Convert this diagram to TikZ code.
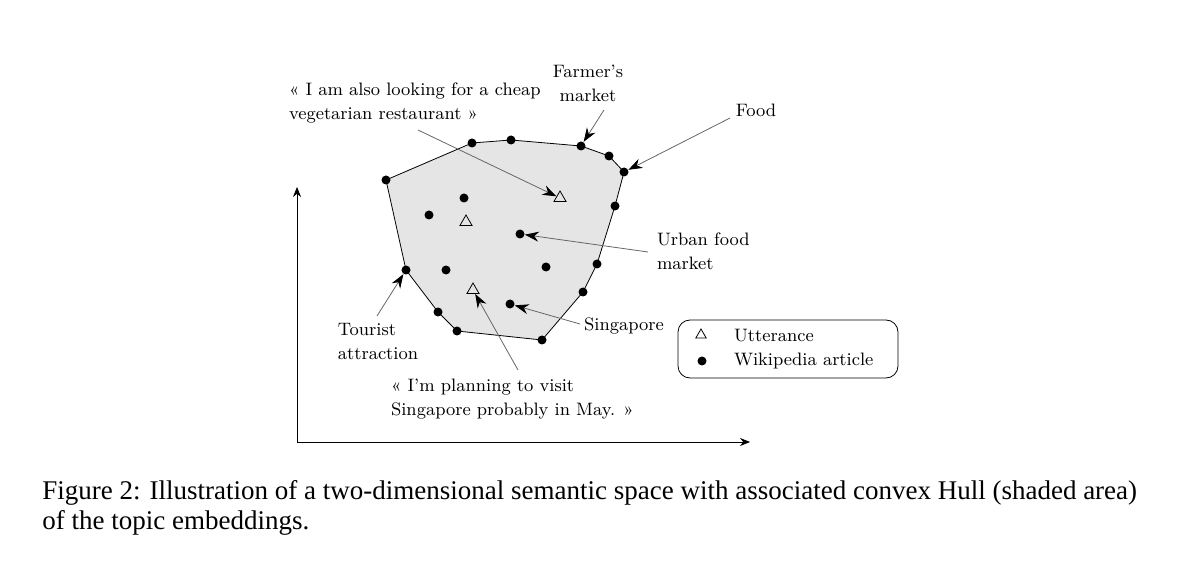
\documentclass[tikz,border=0pt]{standalone}
\usepackage{fontspec}
\newfontfamily\capfont{Liberation Serif}
\usetikzlibrary{arrows.meta}
\tikzset{
  dot/.style={circle,fill=black,inner sep=0pt,minimum size=4.5pt},
  utt/.style={regular polygon,regular polygon sides=3,draw,inner sep=0pt,minimum size=7pt},
  lbl/.style={align=left,font=\fontsize{9}{12}\selectfont},
  pointer/.style={draw=black!60,-{Stealth[length=7pt,width=5pt,black]}}
}
\usetikzlibrary{shapes.geometric}
\begin{document}
\begin{tikzpicture}[x=0.5pt,y=-0.5pt]
    \useasboundingbox (0,0) rectangle (1200,572);
    % hull
    \fill[black!10] (386,180) -- (472,143) -- (511,140) -- (581,146) -- (609,156) -- (624,172) -- (615,206) -- (597,264) -- (583,292) -- (542,340) -- (457,331) -- (438,312) -- (406,270) -- cycle;
    \foreach \p [count=\i] in {(386,180),(472,143),(511,140),(581,146),(609,156),(624,172),(615,206),(597,264),(583,292),(542,340),(457,331),(438,312),(406,270)}
      \node[dot] (h\i) at \p {};
    \draw (h1.center) -- (h2.center) -- (h3.center) -- (h4.center) -- (h5.center) -- (h6.center) -- (h7.center) -- (h8.center) -- (h9.center) -- (h10.center) -- (h11.center) -- (h12.center) -- (h13.center) -- cycle;
    \foreach \p [count=\i] in {(464,198),(429,215),(520,234),(446,270),(546,267),(510,304)}
      \node[dot] (d\i) at \p {};
    \node[utt] (u1) at (560,198) {};
    \node[utt] (u2) at (466,222) {};
    \node[utt] (u3) at (473,290) {};
    % axes
    \coordinate (o) at (297,442);
    \coordinate (ytop) at (297,187);
    \coordinate (xend) at (750,442);
    \draw[-{Stealth[length=5pt,width=4pt]}] (o) -- (ytop);
    \draw[-{Stealth[length=5pt,width=4pt]}] (o) -- (xend);
    % labels
    \node[lbl,anchor=west] (veg) at (282,103) {« I am also looking for a cheap\\vegetarian restaurant »};
    \node[lbl,align=center] (farm) at (588,83) {Farmer's\\market};
    \node[lbl] (food) at (756,110) {Food};
    \node[lbl,anchor=west] (urban) at (650,251) {Urban food\\market};
    \node[lbl] (sing) at (624,326) {Singapore};
    \node[lbl] (tour) at (378,342) {Tourist\\attraction};
    \node[lbl,anchor=west] (may) at (384,399) {« I'm planning to visit\\Singapore probably in May. »};
    \draw[pointer] (418,130) -- (u1);
    \draw[pointer] (604,110) -- (h4);
    \draw[pointer] (730,118) -- (h6);
    \draw[pointer] (648,252) -- (d3);
    \draw[pointer] (580,324) -- (d6);
    \draw[pointer] (377,316) -- (h13);
    \draw[pointer] (518,370) -- (u3);
    % legend
    \draw[rounded corners=6pt] (678,320) rectangle (898,378);
    \node[utt,minimum size=6pt] (lu) at (701,335) {};
    \node[dot] (ld) at (702,361) {};
    \node[lbl,anchor=west] at (727,336) {Utterance};
    \node[lbl,anchor=west] at (727,361) {Wikipedia article};
    % caption
    \node[anchor=north west,align=left,inner sep=0pt,font=\capfont\fontsize{13.5}{15}\selectfont] (cap) at (42,480)
      {Figure 2: Illustration of a two-dimensional semantic space with associated convex Hull (shaded area)\\of the topic embeddings.};
\end{tikzpicture}
\end{document}
